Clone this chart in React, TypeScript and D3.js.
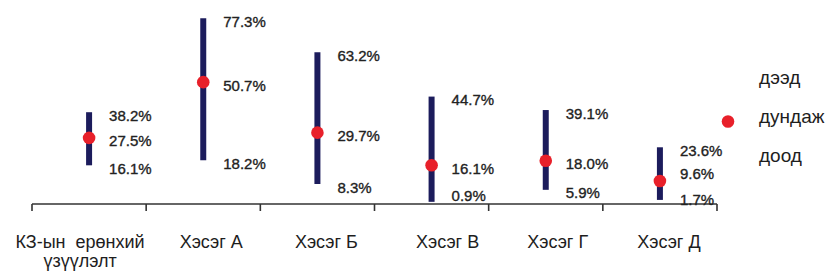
import React from 'react';
import * as d3 from 'd3';

// categories (line break = wrapped tick label)
const categories = ['КЗ-ын  ерөнхий\nүзүүлэлт', 'Хэсэг А', 'Хэсэг Б', 'Хэсэг В', 'Хэсэг Г', 'Хэсэг Д'];
const highValues = [38.2, 77.3, 63.2, 44.7, 39.1, 23.6];
const meanValues = [27.5, 50.7, 29.7, 16.1, 18.0, 9.6];
const lowValues = [16.1, 18.2, 8.3, 0.9, 5.9, 1.7];
const legendLabels = ['дээд', 'дундаж', 'доод'];

const W = 829;
const H = 277;
const axisY = 204;

// manual nudges for labels (like hand-placed labels in the original)
const catLabelDx = [-9, 8, 9, 16, 12, 9];
const midLabelDy = [0, 0, 0, 0, 0, -10];
const lowLabelDy = [0, 0, 0, -9, 0, -3];

const fmt = (v: number) => `${v.toFixed(1)}%`;

const App: React.FC = () => {
  const x = d3.scaleBand<string>().domain(categories).range([32, 717]);
  const y = d3.scaleLinear().domain([0, 80]).range([axisY, axisY - 2.403 * 80]);
  const ticks = [...categories.map(c => x(c) as number), 717];

  const labelFont = "'Liberation Sans', Arial, sans-serif";

  return (
    <svg width={W} height={H} style={{ position: 'absolute', left: 0, top: 0, background: '#fff' }}>
      {/* axis */}
      <line x1={32} x2={717} y1={axisY} y2={axisY} stroke="#333" strokeWidth={1.6} />
      {ticks.map((t, i) => (
        <line key={i} x1={t} x2={t} y1={axisY} y2={axisY + 7} stroke="#333" strokeWidth={1.6} />
      ))}

      {categories.map((c, i) => {
        const cx = (x(c) as number) + x.bandwidth() / 2;
        return (
          <g key={c}>
            <line x1={cx} x2={cx} y1={y(highValues[i])} y2={y(lowValues[i])} stroke="#1c1c5c" strokeWidth={6} />
            <circle cx={cx} cy={y(meanValues[i])} r={6.3} fill="#e8202a" />
            <g fontFamily={labelFont} fontSize={15} fill="#222" stroke="#222" strokeWidth={0.35} dominantBaseline="central">
              <text x={cx + 20} y={y(highValues[i]) + 3}>{fmt(highValues[i])}</text>
              <text x={cx + 20} y={y(meanValues[i]) + 3 + midLabelDy[i]}>{fmt(meanValues[i])}</text>
              <text x={cx + 20} y={y(lowValues[i]) + 3 + lowLabelDy[i]}>{fmt(lowValues[i])}</text>
            </g>
            <text
              x={cx + catLabelDx[i]}
              y={248}
              textAnchor="middle"
              fontFamily={labelFont}
              fontSize={18}
              fill="#1e1e1e"
              style={{ whiteSpace: 'pre' }}
            >
              {c.split('\n').map((line, k) => (
                <tspan key={k} x={cx + catLabelDx[i]} dy={k === 0 ? 0 : 19}>{line}</tspan>
              ))}
            </text>
          </g>
        );
      })}

      {/* legend */}
      <g fontFamily={labelFont} fontSize={19} fill="#1e1e1e">
        {legendLabels.map((l, i) => (
          <text key={l} x={759} y={84 + i * 39}>{l}</text>
        ))}
        <circle cx={728} cy={121.5} r={6.3} fill="#e8202a" />
      </g>
    </svg>
  );
};

export default App;
